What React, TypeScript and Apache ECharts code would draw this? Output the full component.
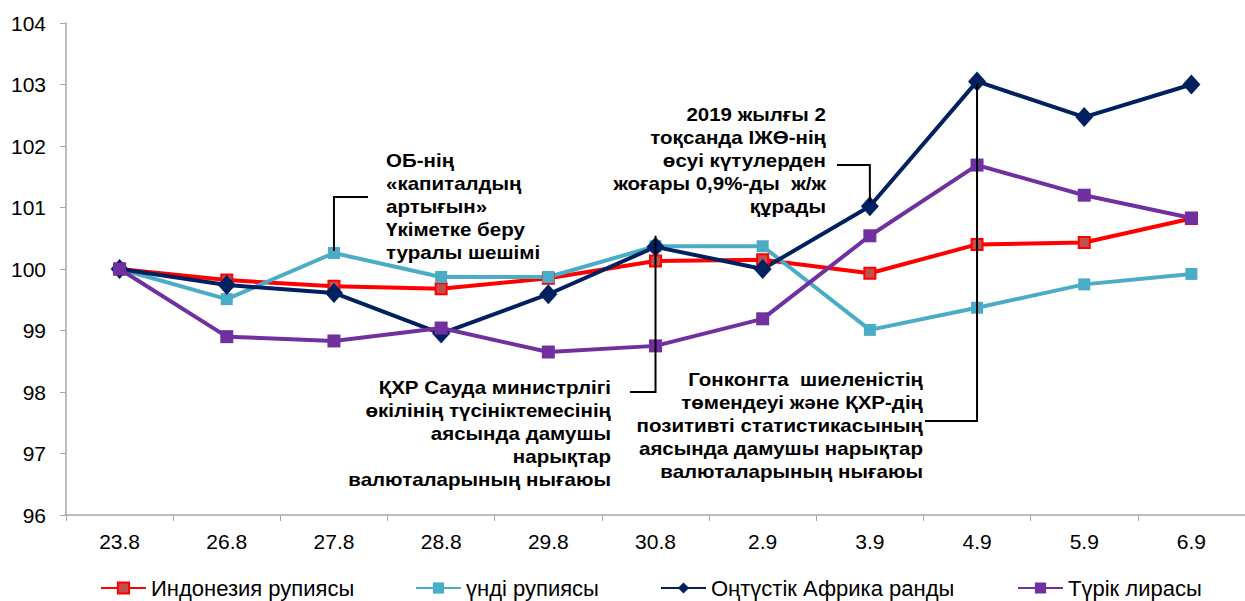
import React, { useEffect, useRef } from "react";
import * as echarts from "echarts";

const categories = ["23.8", "26.8", "27.8", "28.8", "29.8", "30.8", "2.9", "3.9", "4.9", "5.9", "6.9"];
const indonesia = [100, 99.82, 99.72, 99.68, 99.85, 100.13, 100.15, 99.93, 100.4, 100.43, 100.82];
const india = [100, 99.51, 100.26, 99.87, 99.87, 100.37, 100.37, 99.01, 99.37, 99.75, 99.92];
const southAfrica = [100, 99.74, 99.61, 98.95, 99.59, 100.36, 100.0, 101.02, 103.05, 102.47, 103.0];
const turkey = [100, 98.9, 98.83, 99.04, 98.65, 98.75, 99.19, 100.54, 101.69, 101.2, 100.83];
const seriesNames = ["Индонезия рупиясы", "үнді рупиясы", "Оңтүстік Африка ранды", "Түрік лирасы"];

const note1 = "ОБ-нің\n«капиталдың\nартығын»\nҮкіметке беру\nтуралы шешімі";
const note2 = "2019 жылғы 2\nтоқсанда ІЖӨ-нің\nөсуі күтулерден\nжоғары 0,9%-ды  ж/ж\nқұрады";
const note3 = "ҚХР Сауда министрлігі\nөкілінің түсініктемесінің\nаясында дамушы\nнарықтар\nвалюталарының нығаюы";
const note4 = "Гонконгта  шиеленістің\nтөмендеуі және ҚХР-дің\nпозитивті статистикасының\nаясында дамушы нарықтар\nвалюталарының нығаюы";

const FONT = '"Liberation Sans", Arial, sans-serif';

export default function App() {
  const ref = useRef<HTMLDivElement>(null);
  useEffect(() => {
    if (!ref.current) return;
    const chart = echarts.init(ref.current, null, { renderer: "svg" });
    const legendLefts = [100, 415, 660, 1017];
    const option: any = {
      animation: false,
      textStyle: { fontFamily: FONT },
      grid: { left: 66, top: 23, width: 1185, height: 492, containLabel: false },
      legend: seriesNames.map((n, i) => ({
        data: [n],
        left: legendLefts[i],
        top: 577,
        padding: 0,
        itemWidth: 45,
        itemHeight: 14,
        itemGap: 4,
        textStyle: { color: "#000", fontSize: 22, fontFamily: FONT, padding: [0, 0, 0, 0] },
      })),
      xAxis: {
        type: "category",
        data: categories,
        boundaryGap: true,
        axisLine: { show: true, lineStyle: { color: "#A6A6A6", width: 1.5 } },
        axisTick: { show: true, length: 6, lineStyle: { color: "#A6A6A6" } },
        axisLabel: { color: "#000", fontSize: 21, margin: 16, fontFamily: FONT },
      },
      yAxis: {
        type: "value",
        min: 96,
        max: 104,
        interval: 1,
        splitLine: { show: false },
        axisLine: { show: true, lineStyle: { color: "#A6A6A6", width: 1.5 } },
        axisTick: { show: true, length: 6, lineStyle: { color: "#A6A6A6" } },
        axisLabel: { color: "#000", fontSize: 21, margin: 20, fontFamily: FONT },
      },
      series: [
        {
          name: seriesNames[0],
          type: "line",
          data: indonesia,
          symbol: "rect",
          symbolSize: 11,
          lineStyle: { color: "#FF0000", width: 4 },
          itemStyle: { color: "#C0504D", borderColor: "#FF0000", borderWidth: 2 },
        },
        {
          name: seriesNames[1],
          type: "line",
          data: india,
          symbol: "rect",
          symbolSize: 12,
          lineStyle: { color: "#4BACC6", width: 4 },
          itemStyle: { color: "#4BACC6" },
        },
        {
          name: seriesNames[2],
          type: "line",
          data: southAfrica,
          symbol: "diamond",
          symbolSize: [18, 20],
          lineStyle: { color: "#002060", width: 4 },
          itemStyle: { color: "#002060" },
        },
        {
          name: seriesNames[3],
          type: "line",
          data: turkey,
          symbol: "rect",
          symbolSize: 13,
          lineStyle: { color: "#7030A0", width: 4 },
          itemStyle: { color: "#7030A0" },
        },
      ],
    };
    chart.setOption(option);

    const px = (cat: string, v: number) => chart.convertToPixel({ gridIndex: 0 }, [cat, v]) as number[];
    const a1 = px("27.8", india[2]);
    const a2 = px("3.9", southAfrica[7]);
    const a3 = px("30.8", southAfrica[5]);
    const a4 = px("4.9", southAfrica[8]);
    const lineStyle = { stroke: "#000", lineWidth: 2, fill: null };
    const textStyle = (txt: string, align: string) => ({
      text: txt,
      fill: "#000",
      font: `bold 18px ${FONT}`,
      lineHeight: 23,
      align,
      verticalAlign: "top",
    });
    const sx = 1.14;
    chart.setOption({
      graphic: [
        { type: "polyline", z: 100, shape: { points: [[a1[0], a1[1] - 2], [a1[0], 197], [368, 197]] }, style: lineStyle },
        { type: "polyline", z: 100, shape: { points: [[837, 165], [a2[0], 165], [a2[0], a2[1] - 4]] }, style: lineStyle },
        { type: "polyline", z: 100, shape: { points: [[a3[0], a3[1] - 11], [a3[0], 392], [630, 392]] }, style: lineStyle },
        { type: "polyline", z: 100, shape: { points: [[a4[0], a4[1] + 2], [a4[0], 421], [925, 421]] }, style: lineStyle },
        { type: "text", z: 100, x: 386, y: 149.5, scaleX: sx, style: textStyle(note1, "left") },
        { type: "text", z: 100, x: 826, y: 103.5, scaleX: sx, style: textStyle(note2, "right") },
        { type: "text", z: 100, x: 611, y: 376.5, scaleX: sx, style: textStyle(note3, "right") },
        { type: "text", z: 100, x: 923, y: 368.5, scaleX: sx, style: textStyle(note4, "right") },
      ],
    });
    return () => chart.dispose();
  }, []);
  return (
    <div
      ref={ref}
      style={{ position: "absolute", left: 0, top: 0, width: 1245, height: 601, background: "#fff" }}
    />
  );
}
